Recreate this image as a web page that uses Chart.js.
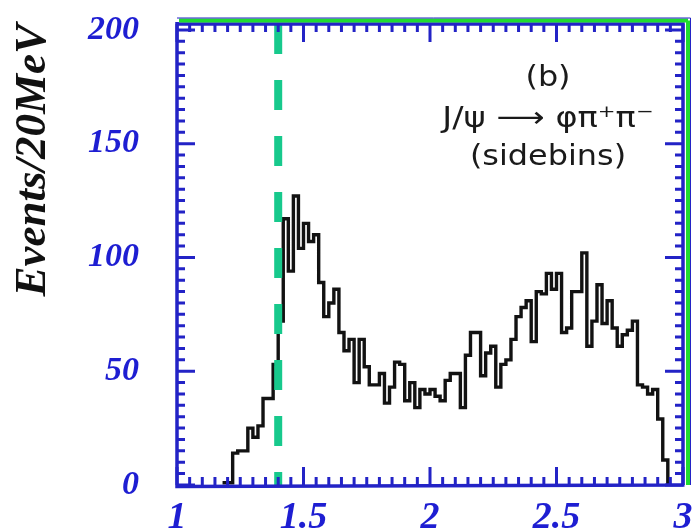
<!DOCTYPE html>
<html><head><meta charset="utf-8">
<script src="https://cdn.jsdelivr.net/npm/chart.js@4.4.1/dist/chart.umd.min.js"></script>
<style>html,body{margin:0;padding:0;background:#fff;}canvas{display:block;}</style>
</head><body>
<canvas id="c" width="693" height="531"></canvas>
<script>
// ---- data ----
const binStart = 1.18;      // left edge of first non-empty bin (GeV)
const binWidth = 0.02;      // 20 MeV bins
const counts = [
  1, 1, 14, 15, 15, 25, 21, 26, 38, 38,
  53, 72, 117, 94, 127, 104, 115, 107, 110, 89,
  74, 80, 86, 67, 59, 64, 45, 64, 52, 44,
  44, 49, 36, 43, 54, 53, 37, 45, 34, 42,
  40, 42, 39, 37, 46, 49, 49, 34, 57, 67,
  67, 48, 58, 61, 43, 53, 55, 64, 74, 78,
  81, 63, 85, 84, 93, 86, 93, 67, 69, 85,
  85, 102, 61, 72, 88, 71, 81, 69, 61, 66,
  68, 72, 44, 43, 40, 42, 29, 11
];
const xRange = [1, 3];
const yRange = [0, 202.6];
const xTickLabels = [1, 1.5, 2, 2.5, 3];
const yTickLabels = [0, 50, 100, 150, 200];
const xMinorStep = 0.05;
const yMinorStep = 5;
const cutMass = 1.40;
const yTitle = 'Events/20MeV';
const panelLines = ['(b)', 'J/\u03C8 \u27F6 \u03C6\u03C0\u207A\u03C0\u207B', '(sidebins)'];

// ---- styles ----
const AXIS_BLUE = '#2323c6';
const LABEL_BLUE = '#1e1ed2';
const FRAME_GREEN = '#1fdc2f';
const DASH_GREEN = '#17c98c';

const histPoints = counts.map((c, i) => ({x: +(binStart + i * binWidth).toFixed(2), y: c}));
histPoints.push({x: +(binStart + counts.length * binWidth).toFixed(2), y: 0});

function stepTicks(min, max, step) {
  const out = [];
  const n = Math.round((max - min) / step);
  for (let i = 0; i <= n; i++) out.push({value: +(min + i * step).toFixed(4)});
  return out;
}
const isLabel = (arr, v) => arr.some(t => Math.abs(t - v) < 1e-6);

const framePlugin = {
  id: 'frame',
  afterDraw(chart) {
    const {ctx, chartArea: a, scales: {x, y}} = chart;
    ctx.save();
    ctx.strokeStyle = AXIS_BLUE;
    ctx.lineWidth = 3;
    ctx.lineCap = 'butt';
    ctx.beginPath();
    x.ticks.forEach(t => {
      const px = x.getPixelForValue(t.value);
      const L = isLabel(xTickLabels, t.value) ? 18 : 8;
      ctx.moveTo(px, a.bottom); ctx.lineTo(px, a.bottom - L);
      ctx.moveTo(px, a.top); ctx.lineTo(px, a.top + L);
    });
    y.ticks.forEach(t => {
      const py = y.getPixelForValue(t.value);
      const L = isLabel(yTickLabels, t.value) ? 18 : 8;
      ctx.moveTo(a.left, py); ctx.lineTo(a.left + L, py);
      ctx.moveTo(a.right, py); ctx.lineTo(a.right - L, py);
    });
    ctx.stroke();
    // frame
    ctx.lineWidth = 3.5;
    ctx.beginPath();
    ctx.moveTo(a.left, a.top - 2); ctx.lineTo(a.left, a.bottom + 1.5);
    ctx.lineTo(a.right + 1.5, a.bottom);
    ctx.moveTo(a.left, a.top); ctx.lineTo(a.right, a.top);
    ctx.lineTo(a.right, a.bottom);
    ctx.stroke();
    ctx.strokeStyle = FRAME_GREEN;
    ctx.lineWidth = 4;
    ctx.beginPath();
    ctx.moveTo(a.left + 2, a.top - 3.5); ctx.lineTo(a.right + 5, a.top - 3.5);
    ctx.moveTo(a.right + 5, a.top - 3.5); ctx.lineTo(a.right + 5, a.bottom);
    ctx.stroke();
    ctx.strokeStyle = AXIS_BLUE;
    ctx.lineWidth = 1;
    ctx.beginPath();
    ctx.moveTo(a.left, a.top - 6); ctx.lineTo(a.right + 7.5, a.top - 6);
    ctx.lineTo(a.right + 7.5, a.bottom);
    ctx.stroke();

    // panel annotation
    ctx.fillStyle = '#1a1a1a';
    ctx.textAlign = 'center';
    ctx.textBaseline = 'middle';
    ctx.font = '29px "DejaVu Sans"';
    const cx = 548;
    const ys = [78, 119, 157];
    panelLines.forEach((s, i) => {
      ctx.save();
      ctx.translate(cx, ys[i]);
      ctx.scale(i === 1 ? 1.16 : 1.1, 1);
      ctx.fillText(s, 0, 0);
      ctx.restore();
    });
    ctx.restore();
  }
};

new Chart(document.getElementById('c'), {
  type: 'line',
  data: {
    datasets: [
      {
        label: 'cut',
        data: [{x: cutMass, y: yRange[1]}, {x: cutMass, y: 0}],
        borderColor: DASH_GREEN,
        borderWidth: 8,
        borderDash: [30, 26],
        borderCapStyle: 'butt',
        pointRadius: 0,
        order: 0
      },
      {
        label: 'sidebins',
        data: histPoints,
        stepped: 'before',
        borderColor: '#121212',
        borderWidth: 3.4,
        pointRadius: 0,
        fill: false,
        order: 1
      }
    ]
  },
  options: {
    responsive: false,
    animation: false,
    devicePixelRatio: 1,
    layout: {padding: {left: 0, top: 24, right: 10, bottom: 0}},
    plugins: {legend: {display: false}, tooltip: {enabled: false}},
    scales: {
      x: {
        type: 'linear',
        min: xRange[0], max: xRange[1],
        afterBuildTicks: s => { s.ticks = stepTicks(xRange[0], xRange[1], xMinorStep); },
        afterFit: s => { s.height = 46; s.paddingLeft = 0; s.paddingRight = 0; },
        grid: {display: false, drawTicks: false},
        border: {display: false},
        ticks: {
          autoSkip: false, maxRotation: 0, padding: 10,
          color: LABEL_BLUE,
          font: {family: '"Liberation Serif"', size: 38, style: 'italic', weight: 'bold'},
          callback: v => isLabel(xTickLabels, v) ? String(v) : ''
        }
      },
      y: {
        type: 'linear',
        min: yRange[0], max: yRange[1],
        afterBuildTicks: s => { s.ticks = stepTicks(0, 200, yMinorStep); },
        afterFit: s => { s.width = 177; s.paddingTop = 0; s.paddingBottom = 0; },
        grid: {display: false, drawTicks: false},
        border: {display: false},
        ticks: {
          autoSkip: false, padding: 38,
          color: LABEL_BLUE,
          font: {family: '"Liberation Serif"', size: 34, style: 'italic', weight: 'bold'},
          callback: v => isLabel(yTickLabels, v) ? String(v) : ''
        },
        title: {
          display: true, text: yTitle, align: 'end', color: '#111',
          padding: {top: 6, bottom: 0},
          font: {family: '"Liberation Serif"', size: 45, style: 'italic', weight: 'bold'}
        }
      }
    }
  },
  plugins: [framePlugin]
});
</script>
</body></html>
